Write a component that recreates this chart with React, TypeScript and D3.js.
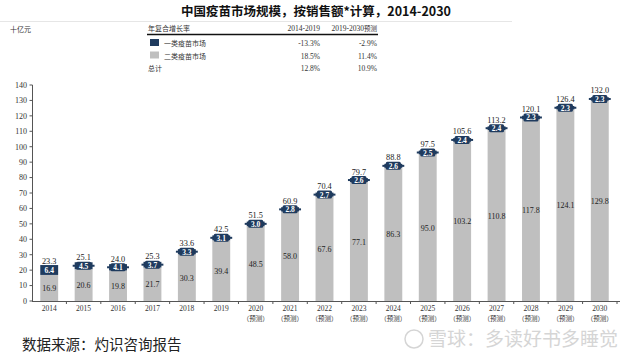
import React from "react";
import * as d3 from "d3";

const years = ["2014","2015","2016","2017","2018","2019","2020","2021","2022","2023","2024","2025","2026","2027","2028","2029","2030"];
const forecast = [false,false,false,false,false,false,true,true,true,true,true,true,true,true,true,true,true];
const class1 = [6.4,4.5,4.1,3.7,3.3,3.1,3.0,2.8,2.7,2.6,2.6,2.5,2.4,2.4,2.3,2.3,2.3];
const class2 = [16.9,20.6,19.8,21.7,30.3,39.4,48.5,58.0,67.6,77.1,86.3,95.0,103.2,110.8,117.8,124.1,129.8];
const totals = [23.3,25.1,24.0,25.3,33.6,42.5,51.5,60.9,70.4,79.7,88.8,97.5,105.6,113.2,120.1,126.4,132.0];
const yTicks = [0,10,20,30,40,50,60,70,80,90,100,110,120,130,140];
const cagrHeader = ["年复合增长率","2014-2019","2019-2030预测"];
const cagrRows = [
  { name: "一类疫苗市场", a: "-13.3%", b: "-2.9%", swatch: "dark" },
  { name: "二类疫苗市场", a: "18.5%", b: "11.4%", swatch: "gray" },
  { name: "总计", a: "12.8%", b: "10.9%", swatch: "" },
];

const DARK = "#1f3b5e";
const GRAY = "#bfbfbf";
const SERIF = "'Liberation Serif','DejaVu Serif',serif";
const CJK = "'Noto Sans CJK SC',sans-serif";

export default function App() {
  const W = 633, H = 356;
  const x = d3.scaleBand().domain(years).range([32, 617]).paddingInner(0.48).paddingOuter(0.24);
  const y = d3.scaleLinear().domain([0, 140]).range([301, 85]);
  const bw = x.bandwidth();
  const step = x.step();
  return (
    <svg width={W} height={H} style={{ position: "absolute", left: 0, top: 0, background: "#fff" }}>
      <text x={316} y={16} textAnchor="middle" fontFamily={CJK} fontWeight={700} fontSize={12.5} fill="#111">
        中国疫苗市场规模，按销售额*计算，2014-2030
      </text>
      <line x1={0} x2={512} y1={21.5} y2={21.5} stroke="#e6e6e6" strokeWidth={1} />
      <text x={10} y={32} fontFamily={CJK} fontSize={7} fill="#333">十亿元</text>
      <text x={148} y={31} fontFamily={CJK} fontSize={7} fill="#333">{cagrHeader[0]}</text>
      <text x={320} y={31} textAnchor="end" fontFamily={SERIF} fontSize={7.5} fill="#333">{cagrHeader[1]}</text>
      <text x={377} y={31} textAnchor="end" fontFamily={SERIF} fontSize={7.5} fill="#333">
        2019-2030<tspan fontFamily={CJK} fontSize={6.5}>预测</tspan>
      </text>
      <line x1={147} x2={378} y1={34.5} y2={34.5} stroke="#111" strokeWidth={1.3} />
      {cagrRows.map((r, i) => {
        const yy = 46 + i * 12.5;
        return (
          <g key={r.name}>
            {r.swatch && (
              <rect x={150} y={yy - 7} width={9} height={7} fill={r.swatch === "dark" ? DARK : GRAY} />
            )}
            <text x={r.swatch ? 164 : 148} y={yy} fontFamily={CJK} fontSize={7} fill="#333">{r.name}</text>
            <text x={320} y={yy} textAnchor="end" fontFamily={SERIF} fontSize={7.5} fill="#333">{r.a}</text>
            <text x={377} y={yy} textAnchor="end" fontFamily={SERIF} fontSize={7.5} fill="#333">{r.b}</text>
          </g>
        );
      })}
      <line x1={32.5} x2={32.5} y1={y(140)} y2={y(0)} stroke="#555" />
      {yTicks.map((t) => (
        <g key={t}>
          <line x1={29.5} x2={32.5} y1={y(t)} y2={y(t)} stroke="#555" />
          <text x={27} y={y(t) + 2.8} textAnchor="end" fontFamily={SERIF} fontSize={8} fill="#333">{t}</text>
        </g>
      ))}
      <line x1={32} x2={620} y1={301.5} y2={301.5} stroke="#555" />
      {years.map((yr) => {
        const bx = (x(yr) as number) - (step - bw) / 2;
        return <line key={"t" + yr} x1={bx + step} x2={bx + step} y1={301.5} y2={304} stroke="#555" />;
      })}
      {years.map((yr, i) => {
        const cx = (x(yr) as number) + bw / 2;
        return (
          <g key={"l" + yr}>
            <text x={cx} y={311} textAnchor="middle" fontFamily={SERIF} fontSize={7.5} fill="#333">{yr}</text>
            {forecast[i] && (
              <text x={cx} y={321} textAnchor="middle" fontFamily={CJK} fontSize={6.5} fill="#333">（预测）</text>
            )}
          </g>
        );
      })}
      {years.map((yr, i) => {
        const bx = x(yr) as number;
        const cx = bx + bw / 2;
        const g0 = y(0), g1 = y(class2[i]);
        const d1 = y(class2[i] + class1[i]);
        const segH = g1 - d1;
        const mid = (g1 + d1) / 2;
        const boxH = Math.max(segH, 8);
        const boxTop = mid - boxH / 2;
        const small = segH < 8;
        const labelTop = Math.min(d1, boxTop);
        return (
          <g key={"b" + yr}>
            <rect x={bx} y={g1} width={bw} height={g0 - g1} fill={GRAY} />
            <rect x={bx} y={d1} width={bw} height={segH} fill={DARK} />
            {small && (
              <>
                <line x1={bx - 2} x2={bx + bw + 2} y1={mid} y2={mid} stroke={DARK} strokeWidth={2} />
                <rect x={cx - 7.5} y={boxTop} width={15} height={boxH} rx={1.5} fill={DARK} />
              </>
            )}
            <text x={cx} y={mid + 3} textAnchor="middle" fontFamily={SERIF} fontWeight={700} fontSize={7.5} fill="#fff">
              {class1[i].toFixed(1)}
            </text>
            <text x={cx} y={(g0 + g1) / 2 + 3} textAnchor="middle" fontFamily={SERIF} fontSize={8} fill="#222">
              {class2[i].toFixed(1)}
            </text>
            <text x={cx} y={labelTop - 1.5} textAnchor="middle" fontFamily={SERIF} fontSize={8.3} fill="#222">
              {totals[i].toFixed(1)}
            </text>
          </g>
        );
      })}
      <text x={22} y={350} fontFamily={CJK} fontSize={14.5} fill="#222">数据来源：灼识咨询报告</text>
      <circle cx={414} cy={339} r={9} fill="none" stroke="#d5d5d5" strokeWidth={1.5} />
      <text x={428} y={346} fontFamily={CJK} fontSize={19} fill="#d5d5d5">雪球：多读好书多睡觉</text>
    </svg>
  );
}
